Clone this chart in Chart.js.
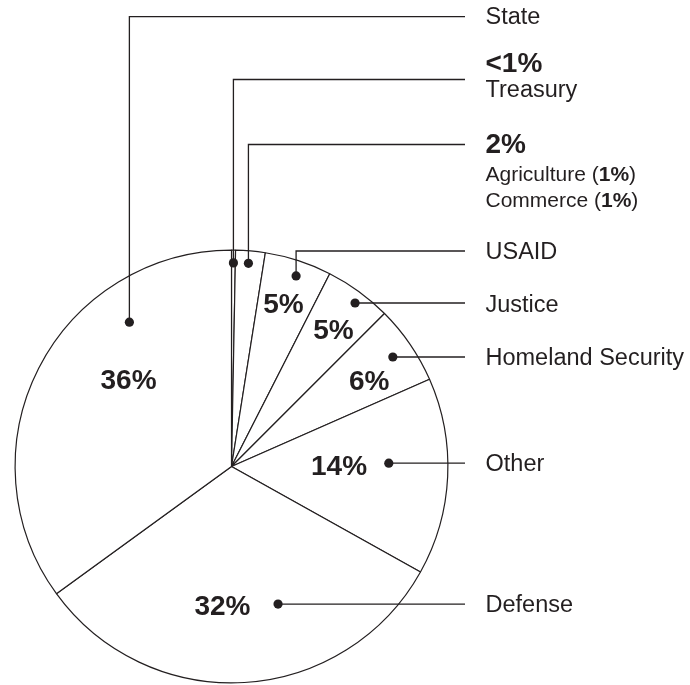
<!DOCTYPE html>
<html lang="en">
  <head>
    <meta charset="UTF-8" />
    <title>pie</title>
    <script src="https://cdn.jsdelivr.net/npm/chart.js@4.4.0/dist/chart.umd.min.js"></script>
    <style>
      html, body { margin: 0; padding: 0; background: #fff; }
      .chart-view { width: 690px; height: 685px; }
    </style>
  </head>
  <body>
    <div class="chart-view">
      <canvas id="chart"></canvas>
    </div>

    <script>
      //data
      const categories = ['Treasury', 'Agriculture & Commerce', 'USAID', 'Justice', 'Homeland Security', 'Other', 'Defense', 'State'];
      const shares = [0.3, 2.2, 5.0, 5.0, 5.9, 14.7, 31.9, 35.0];
      const shareLabels = ['<1%', '2%', '5%', '5%', '6%', '14%', '32%', '36%'];
      const subAgencies = ['Agriculture', 'Commerce'];
      const subShareLabels = ['1%', '1%'];

      const INK = '#231f20';
      const FONT = '"Liberation Sans", Arial, Helvetica, sans-serif';
      const lineEndX = 465;
      const textX = 485.5;

      // callout layout: dot = [fraction along slice, fraction of radius]
      const callouts = [
        { dot: [0.5, 0.941], lineY: 79.5, rows: [['share', -7.8], ['name', 17.8]] },
        { dot: [0.465, 0.942], lineY: 144.5, rows: [['share', 8.8], ['sub0', 36.5], ['sub1', 62.2]] },
        { dot: [0.54, 0.93], lineY: 251, rows: [['name', 8.3]], pct: [0.48, 0.791] },
        { dot: [0.56, 0.947], rows: [['name', 8.5]], pct: [0.53, 0.791] },
        { dot: [0.51, 0.901], rows: [['name', 8.2]], pct: [0.6, 0.752] },
        { dot: [0.426, 0.727], rows: [['name', 7.8]], pct: [0.43, 0.497] },
        { dot: [0.367, 0.671], rows: [['name', 7.8]], pct: [0.5625, 0.641] },
        { dot: [0.72, 0.817], lineY: 16.7, rows: [['name', 7.4]], pct: [0.605, 0.623] }
      ];

      function polar(arc, t, rf) {
        const p = arc.getProps(['x', 'y', 'startAngle', 'endAngle', 'outerRadius'], true);
        const a = p.startAngle + t * (p.endAngle - p.startAngle);
        return { x: p.x + Math.cos(a) * p.outerRadius * rf, y: p.y + Math.sin(a) * p.outerRadius * rf };
      }

      function drawRich(ctx, x, y, parts, size) {
        parts.forEach(([txt, bold]) => {
          ctx.font = (bold ? 'bold ' : '') + size + 'px ' + FONT;
          ctx.fillText(txt, x, y);
          x += ctx.measureText(txt).width;
        });
      }

      const calloutPlugin = {
        id: 'callouts',
        afterDatasetsDraw(chart) {
          const ctx = chart.ctx;
          const arcs = chart.getDatasetMeta(0).data;
          ctx.save();
          ctx.fillStyle = INK;
          ctx.strokeStyle = INK;
          ctx.lineWidth = 1.3;
          ctx.textAlign = 'left';
          ctx.textBaseline = 'alphabetic';
          arcs.forEach((arc, i) => {
            const c = callouts[i];
            const d = polar(arc, c.dot[0], c.dot[1]);
            const ly = c.lineY !== undefined ? c.lineY : d.y;

            ctx.beginPath();
            ctx.moveTo(d.x, d.y);
            if (c.lineY !== undefined) ctx.lineTo(d.x, ly);
            ctx.lineTo(lineEndX, ly);
            ctx.stroke();

            ctx.beginPath();
            ctx.arc(d.x, d.y, 4.6, 0, Math.PI * 2);
            ctx.fill();

            c.rows.forEach(([kind, dy]) => {
              const y = ly + dy;
              if (kind === 'name') {
                drawRich(ctx, textX, y, [[categories[i], false]], 23.5);
              } else if (kind === 'share') {
                drawRich(ctx, textX, y, [[shareLabels[i], true]], 28);
              } else {
                const j = Number(kind.slice(3));
                drawRich(ctx, textX, y, [[subAgencies[j] + ' (', false], [subShareLabels[j], true], [')', false]], 21);
              }
            });

            if (c.pct) {
              const p = polar(arc, c.pct[0], c.pct[1]);
              ctx.font = 'bold 28px ' + FONT;
              ctx.textAlign = 'center';
              ctx.fillText(shareLabels[i], p.x, p.y + 10);
              ctx.textAlign = 'left';
            }
          });
          ctx.restore();
        }
      };

      //config
      const config = {
        type: 'pie',
        data: {
          labels: categories,
          datasets: [
            {
              data: shares,
              backgroundColor: '#ffffff',
              borderColor: INK,
              borderWidth: 1.2,
              offset: 0,
              hoverOffset: 0
            }
          ]
        },
        options: {
          responsive: true,
          maintainAspectRatio: false,
          animation: false,
          events: [],
          layout: { padding: { left: 14.5, top: 249.5, right: 241.5, bottom: 1.5 } },
          plugins: {
            legend: { display: false },
            tooltip: { enabled: false }
          }
        },
        plugins: [calloutPlugin]
      };

      //init
      const ctx = document.getElementById('chart');
      const chart = new Chart(ctx, config);
    </script>
  </body>
</html>
